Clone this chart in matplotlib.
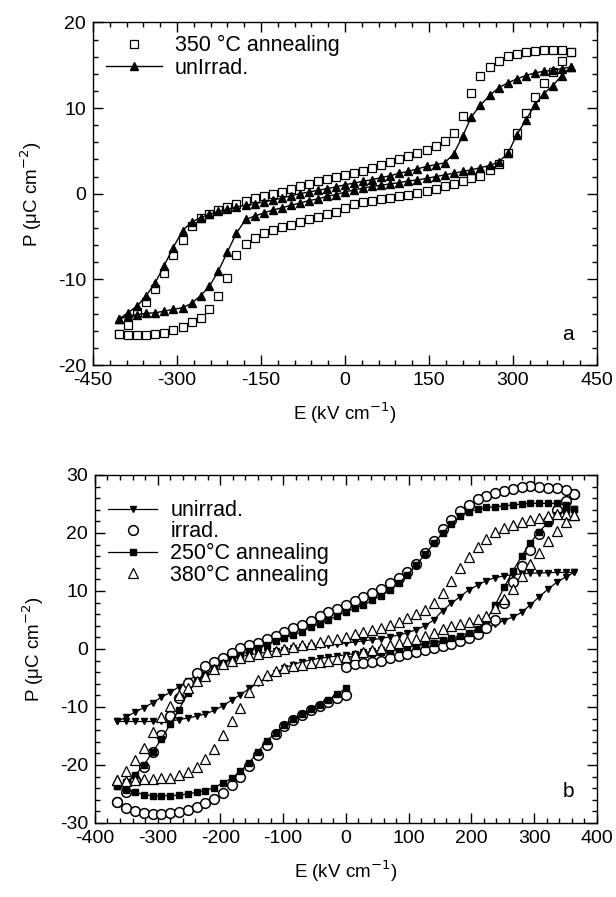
import numpy as np
import matplotlib.pyplot as plt
from matplotlib.ticker import MultipleLocator

plt.rcParams['font.family'] = ['Liberation Sans', 'DejaVu Sans']
plt.rcParams['font.size'] = 13
plt.rcParams['axes.unicode_minus'] = False

# ---------------- panel a data (E in kV/cm, P in uC/cm2) ----------------
E_a_down = [403, 387, 371, 355, 339, 323, 307, 291, 275, 259, 242, 226, 210, 194, 178,
            162, 146, 129, 113, 97, 81, 65, 49, 32, 16, 0, -16, -32, -48, -65,
            -81, -97, -113, -129, -145, -161, -177, -194, -210, -226, -242, -258, -274, -290, -307,
            -323, -339, -355, -371, -388, -404]
E_a_up = E_a_down[::-1]

unirr_a_down = [14.8, 14.6, 14.4, 14.3, 14.1, 13.8, 13.4, 12.95, 12.4, 11.5, 10.35, 9.0, 6.7, 4.65, 3.6,
                3.4, 3.2, 2.9, 2.6, 2.4, 2.1, 1.9, 1.65, 1.45, 1.25, 1.05, 0.8, 0.6, 0.4, 0.2,
                0.0, -0.25, -0.5, -0.75, -0.95, -1.15, -1.35, -1.55, -1.8, -2.05, -2.4, -2.8, -3.3, -4.3, -6.3,
                -8.4, -10.4, -11.9, -13.1, -13.9, -14.65]
unirr_a_up = [-14.65, -14.3, -14.1, -13.95, -13.9, -13.7, -13.5, -13.3, -12.8, -11.9, -10.8, -9.0, -6.8, -4.6, -3.0,
              -2.6, -2.25, -1.9, -1.65, -1.35, -1.1, -0.8, -0.6, -0.3, -0.1, 0.2, 0.45, 0.65, 0.85, 1.0,
              1.15, 1.3, 1.5, 1.6, 1.8, 2.0, 2.2, 2.4, 2.6, 2.8, 3.05, 3.3, 3.75, 4.7, 6.9,
              8.6, 10.35, 11.7, 12.6, 13.8, 14.8]

ann350_down = [16.55, 16.8, 16.8, 16.8, 16.7, 16.55, 16.35, 16.05, 15.5, 14.8, 13.7, 11.8, 9.1, 7.05, 6.2,
               5.6, 5.1, 4.7, 4.4, 4.0, 3.7, 3.4, 3.0, 2.7, 2.4, 2.2, 2.0, 1.75, 1.45, 1.15,
               0.85, 0.55, 0.2, -0.05, -0.3, -0.5, -0.9, -1.15, -1.5, -1.85, -2.35, -2.85, -3.8, -5.35, -7.1,
               -9.2, -11.1, -12.6, -13.8, -15.35, -16.4]
ann350_up = [-16.4, -16.5, -16.5, -16.5, -16.4, -16.2, -15.9, -15.6, -15.0, -14.5, -13.5, -11.9, -9.8, -7.1, -5.85,
             -5.15, -4.6, -4.2, -3.9, -3.6, -3.3, -3.0, -2.7, -2.4, -2.1, -1.7, -1.15, -0.95, -0.8, -0.6,
             -0.5, -0.3, -0.1, 0.1, 0.35, 0.6, 0.85, 1.1, 1.45, 1.8, 2.1, 2.8, 3.5, 4.8, 7.05,
             9.4, 11.3, 12.95, 14.2, 15.5, 16.55]

# ---------------- panel b data ----------------
E_b_down = [364, 350, 336, 322, 308, 294, 280, 266, 252, 238, 224, 210, 196, 182, 168, 154, 140, 126,
            112, 98, 84, 70, 56, 42, 28, 14, 0, -14, -28, -42, -56, -70, -84, -98, -112, -126,
            -140, -154, -168, -182, -196, -210, -224, -238, -252, -266, -280, -294, -308, -322, -336, -350, -364]
E_b_up = E_b_down[::-1]
E_b_right = [0, 14, 28, 42, 56, 70, 84, 98, 112, 126, 140, 154, 168, 182, 196, 210, 224, 238,
             252, 266, 280, 294, 308, 322, 336, 350, 364]
E_b_left = [-364, -350, -336, -322, -308, -294, -280, -266, -252, -238, -224, -210, -196, -182, -168, -154, -140, -126,
            -112, -98, -84, -70, -56, -42, -28, -14, 0]

unirr_b_down = [13.2, 13.2, 13.2, 13.15, 13.1, 13.05, 12.95, 12.8, 12.6, 12.3, 11.8, 11.0, 10.2, 9.0, 7.9, 6.6, 5.0, 4.0,
                3.3, 2.8, 2.4, 2.1, 1.8, 1.6, 1.4, 1.2, 1.05, 0.9, 0.75, 0.6, 0.45, 0.3, 0.1, -0.1, -0.3, -0.55,
                -0.8, -1.0, -1.35, -1.7, -2.1, -2.6, -3.2, -4.5, -5.5, -6.5, -7.5, -8.3, -9.3, -10.1, -10.9, -11.7, -12.5]
unirr_b_up = [-12.5, -12.5, -12.5, -12.5, -12.5, -12.5, -12.4, -12.2, -11.9, -11.6, -11.2, -10.6, -9.8, -8.8, -7.9, -6.8, -5.9, -5.0,
              -4.1, -3.3, -2.7, -2.2, -1.9, -1.6, -1.4, -1.2, -1.0, -0.8, -0.6, -0.4, -0.2, 0.0, 0.2, 0.4, 0.6, 0.8,
              1.0, 1.3, 1.6, 1.9, 2.3, 2.8, 3.4, 4.3, 4.9, 5.5, 6.3, 7.6, 9.0, 10.3, 11.5, 12.4, 13.2]

irr_right = [-3.1, -2.6, -2.4, -2.3, -2.0, -1.6, -1.2, -0.8, -0.5, -0.1, 0.2, 0.5, 0.8, 1.3, 1.9, 2.6, 3.6, 5.0,
             8.0, 11.5, 14.3, 17.0, 19.8, 22.0, 23.9, 25.5, 26.8]
irr_down = [26.8, 27.4, 27.7, 27.8, 28.0, 28.1, 27.9, 27.6, 27.3, 26.9, 26.4, 25.8, 24.9, 23.8, 22.3, 20.6, 18.6, 16.6,
            14.7, 13.3, 12.2, 11.3, 10.4, 9.7, 9.0, 8.3, 7.5, 6.9, 6.4, 5.7, 4.9, 4.2, 3.6, 3.0, 2.3, 1.7,
            1.1, 0.6, 0.1, -0.7, -1.5, -2.2, -3.0, -4.2, -5.8, -8.5, -11.5, -14.8, -17.8, -20.4, -22.6, -24.6, -26.3]
irr_left = [-26.3, -27.5, -27.9, -28.2, -28.4, -28.4, -28.3, -28.1, -27.7, -27.2, -26.6, -25.8, -24.8, -23.5, -22.0, -20.2, -18.3, -16.5,
            -14.7, -13.3, -12.2, -11.3, -10.6, -9.9, -9.2, -8.5, -7.9]

ann250_right = [-1.8, -1.0, -0.9, -0.7, -0.55, -0.3, 0.0, 0.3, 0.55, 0.9, 1.1, 1.5, 1.9, 2.3, 2.8, 3.5, 5.0, 7.6,
                10.6, 13.4, 16.0, 18.3, 20.2, 21.8, 23.1, 23.9, 24.1]
ann250_down = [24.1, 24.8, 25.1, 25.1, 25.1, 25.1, 25.0, 24.8, 24.7, 24.5, 24.4, 24.1, 23.7, 22.9, 21.6, 20.0, 18.2, 16.3,
               14.5, 12.8, 11.3, 10.1, 9.2, 8.4, 7.6, 7.0, 6.4, 5.7, 5.0, 4.3, 3.8, 3.0, 2.4, 1.9, 1.3, 0.7,
               0.2, -0.4, -1.0, -1.7, -2.4, -3.3, -4.4, -5.6, -7.6, -10.5, -13.0, -15.5, -17.8, -20.0, -21.8, -23.0, -23.6]
ann250_left = [-23.6, -24.3, -24.7, -25.1, -25.3, -25.3, -25.3, -25.2, -25.0, -24.7, -24.4, -23.9, -23.1, -22.3, -21.1, -19.6, -17.7, -15.9,
               -14.4, -13.1, -12.1, -11.2, -10.4, -9.6, -8.8, -7.8, -6.8]

ann380_down = [23.1, 23.3, 23.3, 23.0, 22.6, 22.3, 21.9, 21.4, 20.8, 20.2, 19.0, 17.6, 15.8, 13.9, 11.8, 9.6, 7.9, 6.8,
               6.0, 5.3, 4.7, 4.1, 3.7, 3.3, 3.0, 2.5, 2.1, 1.8, 1.5, 1.2, 0.9, 0.6, 0.3, 0.0, -0.3, -0.6,
               -0.9, -1.2, -1.5, -2.0, -2.6, -3.5, -4.6, -5.5, -6.8, -8.0, -9.8, -11.8, -14.3, -17.0, -19.2, -21.0, -22.6]
ann380_up = [-22.6, -22.8, -22.6, -22.4, -22.4, -22.3, -22.2, -21.8, -21.2, -20.3, -19.0, -17.2, -14.9, -12.4, -10.2, -7.4, -5.3, -4.4,
             -3.8, -3.3, -3.0, -2.7, -2.5, -2.3, -2.1, -1.8, -1.4, -1.0, -0.6, -0.2, 0.2, 0.6, 1.0, 1.4, 1.8, 2.3,
             2.8, 3.4, 3.9, 4.3, 4.7, 5.1, 5.6, 7.0, 8.7, 10.4, 12.5, 14.6, 16.6, 18.6, 20.4, 21.9, 23.1]


def style_axes(ax, xmaj, xmin, ymaj, ymin):
    ax.xaxis.set_major_locator(MultipleLocator(xmaj))
    ax.xaxis.set_minor_locator(MultipleLocator(xmin))
    ax.yaxis.set_major_locator(MultipleLocator(ymaj))
    ax.yaxis.set_minor_locator(MultipleLocator(ymin))
    ax.tick_params(which='both', direction='in', top=True, right=True, width=1)
    ax.tick_params(which='major', length=7, labelsize=14, pad=5)
    ax.tick_params(which='minor', length=3.5)
    for s in ax.spines.values():
        s.set_linewidth(1)


fig = plt.figure(figsize=(6.16, 8.97), dpi=100)

# ---------------- panel a ----------------
ax1 = fig.add_axes([0.151, 0.593, 0.818, 0.382])
ax1.plot(E_a_down + E_a_up, ann350_down + ann350_up, ls='none', marker='s', ms=6,
         mfc='white', mec='black', mew=0.9, label='350 °C annealing')
ax1.plot(E_a_down + E_a_up, unirr_a_down + unirr_a_up, '-', color='black', lw=1,
         marker='^', ms=6, mfc='black', mec='black', label='unIrrad.')
ax1.set_xlim(-450, 450)
ax1.set_ylim(-20, 20)
style_axes(ax1, 150, 30, 10, 2)
ax1.set_xlabel('E (kV cm$^{-1}$)', fontsize=13.5, labelpad=8)
ax1.set_ylabel('P (μC cm$^{-2}$)', fontsize=13.5, labelpad=10)
ax1.legend(loc='upper left', frameon=False, fontsize=15.5, handlelength=2.6,
           handletextpad=0.6, labelspacing=0.05, borderaxespad=0.2, bbox_to_anchor=(0.0, 1.0))
ax1.text(0.955, 0.09, 'a', transform=ax1.transAxes, fontsize=15, ha='right', va='center')

# ---------------- panel b ----------------
ax2 = fig.add_axes([0.154, 0.0825, 0.815, 0.388])
ax2.plot(E_b_down + E_b_up, unirr_b_down + unirr_b_up, '-', color='black', lw=0.9,
         marker='v', ms=5, mfc='black', mec='black', label='unirrad.')
ax2.plot(E_b_right + E_b_down + E_b_left, irr_right + irr_down + irr_left, ls='none',
         marker='o', ms=7, mfc='white', mec='black', mew=1.1, label='irrad.')
ax2.plot(E_b_right + E_b_down + E_b_left, ann250_right + ann250_down + ann250_left, '-',
         color='black', lw=0.9, marker='s', ms=4.5, mfc='black', mec='black', label='250°C annealing')
ax2.plot(E_b_down + E_b_up, ann380_down + ann380_up, ls='none', marker='^', ms=6.5,
         mfc='white', mec='black', mew=0.9, label='380°C annealing')
ax2.set_xlim(-400, 400)
ax2.set_ylim(-30, 30)
style_axes(ax2, 100, 20, 10, 2)
ax2.set_xlabel('E (kV cm$^{-1}$)', fontsize=13.5, labelpad=8)
ax2.set_ylabel('P (μC cm$^{-2}$)', fontsize=13.5, labelpad=10)
ax2.legend(loc='upper left', frameon=False, fontsize=15.5, handlelength=2.3,
           handletextpad=0.6, labelspacing=0.02, borderaxespad=0.2, bbox_to_anchor=(0.0, 0.965))
ax2.text(0.955, 0.09, 'b', transform=ax2.transAxes, fontsize=15, ha='right', va='center')

fig.savefig('out.png', dpi=100)
